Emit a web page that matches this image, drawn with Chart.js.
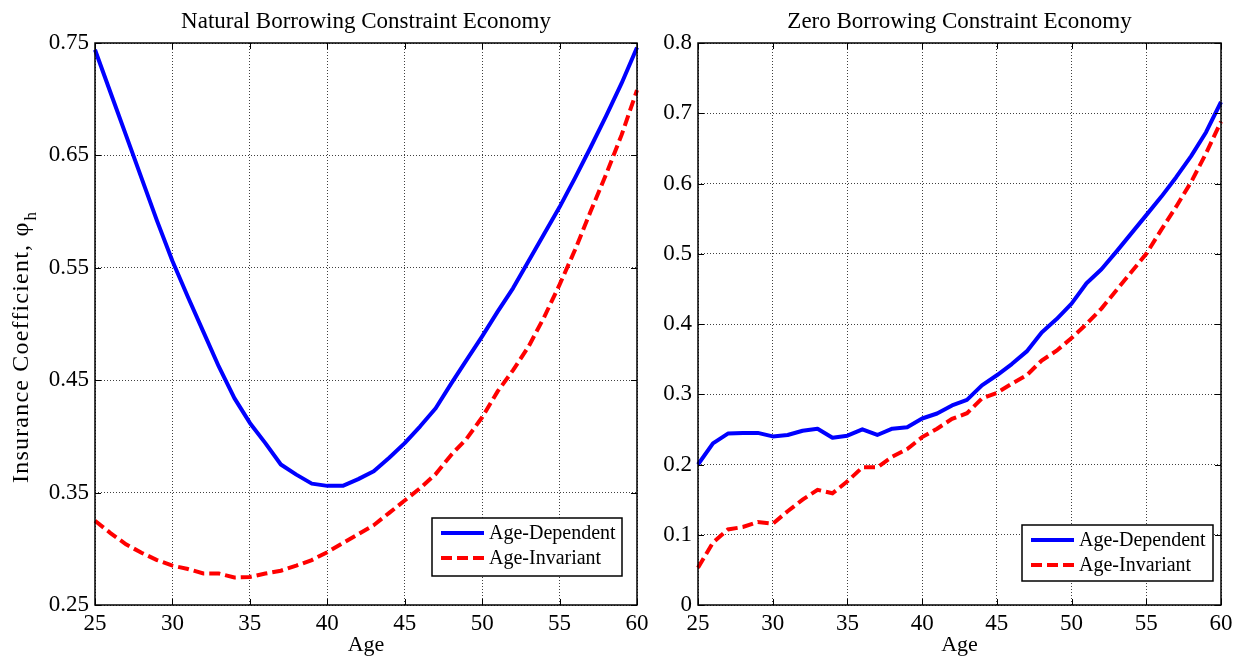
<!DOCTYPE html>
<html><head><meta charset="utf-8">
<script src="https://cdn.jsdelivr.net/npm/chart.js@4.4.1/dist/chart.umd.min.js"></script>
<style>
html,body{margin:0;padding:0;background:#fff;width:1234px;height:658px;overflow:hidden;}
.wrap{position:absolute;top:0;height:658px;}
#w1{left:0;width:660px;}
#w2{left:660px;width:574px;}
canvas{display:block;}
</style></head><body>
<div class="wrap" id="w1"><canvas id="c1" width="660" height="658"></canvas></div>
<div class="wrap" id="w2"><canvas id="c2" width="574" height="658"></canvas></div>
<script>
// ---------- data ----------
const ages = [25,26,27,28,29,30,31,32,33,34,35,36,37,38,39,40,41,42,43,44,45,46,47,48,49,50,51,52,53,54,55,56,57,58,59,60];
const xTicks = [25,30,35,40,45,50,55,60];
const nbcYTicks = [0.25,0.35,0.45,0.55,0.65,0.75];
const nbcYLabels = ['0.25','0.35','0.45','0.55','0.65','0.75'];
const zbcYTicks = [0,0.1,0.2,0.3,0.4,0.5,0.6,0.7,0.8];
const zbcYLabels = ['0','0.1','0.2','0.3','0.4','0.5','0.6','0.7','0.8'];
const nbcDependent = [0.744,0.706,0.668,0.630,0.592,0.556,0.524,0.493,0.462,0.434,0.412,0.394,0.375,0.366,0.358,0.356,0.356,0.362,0.369,0.381,0.394,0.409,0.425,0.447,0.468,0.489,0.511,0.532,0.556,0.580,0.604,0.630,0.657,0.685,0.714,0.746];
const nbcInvariant = [0.325,0.314,0.304,0.2965,0.290,0.285,0.282,0.278,0.278,0.2745,0.275,0.278,0.2805,0.285,0.290,0.297,0.305,0.313,0.321,0.332,0.343,0.354,0.3665,0.3835,0.398,0.417,0.440,0.459,0.480,0.506,0.535,0.566,0.600,0.633,0.668,0.708];
const zbcDependent = [0.200,0.230,0.244,0.245,0.245,0.240,0.242,0.248,0.251,0.238,0.241,0.250,0.242,0.251,0.253,0.2655,0.2726,0.284,0.292,0.3127,0.327,0.343,0.361,0.388,0.407,0.429,0.458,0.478,0.503,0.529,0.555,0.581,0.609,0.639,0.673,0.716];
const zbcInvariant = [0.053,0.0887,0.1075,0.111,0.118,0.1156,0.1335,0.150,0.164,0.159,0.176,0.196,0.196,0.211,0.222,0.239,0.251,0.265,0.273,0.294,0.302,0.315,0.327,0.348,0.362,0.380,0.400,0.422,0.448,0.474,0.500,0.534,0.567,0.602,0.643,0.688];
const seriesNames = ['Age-Dependent','Age-Invariant'];
const panelTitles = ['Natural Borrowing Constraint Economy','Zero Borrowing Constraint Economy'];
const xTitle = 'Age';
const yTitleMain = 'Insurance Coefficient, \u03C6';
const yTitleSub = 'h';

// ---------- styling ----------
const SERIF = '"Liberation Serif","Times New Roman",serif';
const BLUE = '#0000FF', RED = '#FF0000';

const decorPlugin = {
  id: 'decor',
  afterDraw(chart, args, opts) {
    const ctx = chart.ctx;
    const a = chart.chartArea;
    const xs = chart.scales.x, ys = chart.scales.y;
    ctx.save();
    // axes box
    ctx.strokeStyle = '#000';
    ctx.lineWidth = 1.5;
    ctx.setLineDash([]);
    ctx.strokeRect(a.left, a.top, a.right - a.left, a.bottom - a.top);
    // inner tick marks
    ctx.lineWidth = 1;
    ctx.beginPath();
    xs.ticks.forEach(t => {
      const p = Math.round(xs.getPixelForValue(t.value)) + 0.5;
      ctx.moveTo(p, a.bottom); ctx.lineTo(p, a.bottom - 6);
      ctx.moveTo(p, a.top); ctx.lineTo(p, a.top + 6);
    });
    ys.ticks.forEach(t => {
      const p = Math.round(ys.getPixelForValue(t.value)) + 0.5;
      ctx.moveTo(a.left, p); ctx.lineTo(a.left + 6, p);
      ctx.moveTo(a.right, p); ctx.lineTo(a.right - 6, p);
    });
    ctx.stroke();
    // panel title
    ctx.fillStyle = '#000';
    ctx.font = '23px ' + SERIF;
    ctx.textAlign = 'center';
    ctx.textBaseline = 'alphabetic';
    ctx.fillText(opts.title, (a.left + a.right) / 2, 28);
    // y axis title with subscript
    if (opts.yTitle) {
      ctx.save();
      ctx.translate(opts.yTitleX, opts.yTitleBottom);
      ctx.rotate(-Math.PI / 2);
      ctx.font = opts.yTitleSize + 'px ' + SERIF;
      if ('letterSpacing' in ctx) ctx.letterSpacing = '1.2px';
      ctx.textAlign = 'left';
      ctx.textBaseline = 'alphabetic';
      ctx.fillText(yTitleMain, 0, 0);
      const w = ctx.measureText(yTitleMain).width;
      ctx.font = Math.round(opts.yTitleSize * 0.7) + 'px ' + SERIF;
      ctx.fillText(yTitleSub, w + 1, 8);
      ctx.restore();
    }
    // legend
    const L = opts.legend;
    ctx.fillStyle = '#fff';
    ctx.fillRect(L.x, L.y, L.w, L.h);
    ctx.strokeStyle = '#000';
    ctx.lineWidth = 1.5;
    ctx.strokeRect(L.x, L.y, L.w, L.h);
    ctx.font = '20px ' + SERIF;
    ctx.textAlign = 'left';
    ctx.textBaseline = 'middle';
    chart.data.datasets.forEach((ds, i) => {
      const yy = L.y + 15 + i * 25;
      ctx.strokeStyle = ds.borderColor;
      ctx.lineWidth = 4;
      ctx.lineCap = 'butt';
      ctx.setLineDash(ds.borderDash || []);
      ctx.beginPath();
      ctx.moveTo(L.x + 9, yy); ctx.lineTo(L.x + 52, yy);
      ctx.stroke();
      ctx.setLineDash([]);
      ctx.fillStyle = '#000';
      ctx.fillText(ds.label, L.x + 57, yy + 1);
    });
    ctx.restore();
  }
};

function pts(arr) { return ages.map((a, i) => ({x: a, y: arr[i]})); }

function makeChart(id, dep, inv, yTicks, yLabels, ymin, ymax, axisW, padRight, decor) {
  return new Chart(document.getElementById(id), {
    type: 'line',
    data: {
      datasets: [
        {label: seriesNames[0], data: pts(dep), borderColor: BLUE, backgroundColor: BLUE,
         borderWidth: 4, pointRadius: 0, tension: 0, borderJoinStyle: 'round', clip: false},
        {label: seriesNames[1], data: pts(inv), borderColor: RED, backgroundColor: RED,
         borderWidth: 4, pointRadius: 0, tension: 0, borderDash: [11, 5], borderCapStyle: 'butt', clip: false}
      ]
    },
    options: {
      responsive: false,
      animation: false,
      devicePixelRatio: 1,
      layout: {padding: {top: 43, right: padRight, bottom: 0, left: 0}},
      plugins: {legend: {display: false}, tooltip: {enabled: false}, title: {display: false}, decor: decor},
      scales: {
        x: {
          type: 'linear', min: 25, max: 60,
          afterBuildTicks: s => { s.ticks = xTicks.map(v => ({value: v})); },
          afterFit: s => { s.height = 53; s.paddingLeft = 0; s.paddingRight = 0; },
          ticks: {font: {family: SERIF, size: 23}, color: '#000', padding: 5, maxRotation: 0, autoSkip: false,
                  callback: v => String(v)},
          grid: {color: 'rgba(0,0,0,0.75)', lineWidth: 1, drawTicks: false},
          border: {display: false, dash: [1, 2]},
          title: {display: true, text: xTitle, color: '#000', font: {family: SERIF, size: 22}, padding: {top: 0, bottom: 0}}
        },
        y: {
          type: 'linear', min: ymin, max: ymax,
          afterBuildTicks: s => { s.ticks = yTicks.map(v => ({value: v})); },
          afterFit: s => { s.width = axisW; s.paddingTop = 0; s.paddingBottom = 0; },
          ticks: {font: {family: SERIF, size: 23}, color: '#000', padding: 6, autoSkip: false,
                  callback: (v, i) => yLabels[i]},
          grid: {color: 'rgba(0,0,0,0.75)', lineWidth: 1, drawTicks: false},
          border: {display: false, dash: [1, 2]}
        }
      }
    },
    plugins: [decorPlugin]
  });
}

makeChart('c1', nbcDependent, nbcInvariant, nbcYTicks, nbcYLabels, 0.25, 0.75, 95, 23, {
  title: panelTitles[0], yTitle: true, yTitleX: 28, yTitleBottom: 483, yTitleSize: 24,
  legend: {x: 432, y: 518, w: 190, h: 58}
});
makeChart('c2', zbcDependent, zbcInvariant, zbcYTicks, zbcYLabels, 0, 0.8, 38, 13, {
  title: panelTitles[1], yTitle: false,
  legend: {x: 1022 - 660, y: 525, w: 191, h: 56}
});
</script>
</body></html>
